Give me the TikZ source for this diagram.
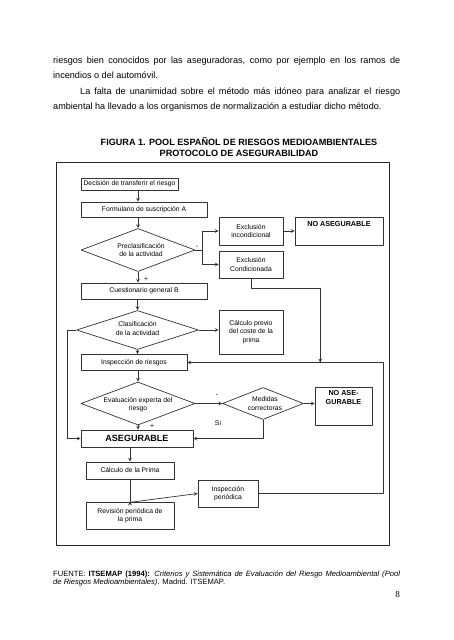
\documentclass[tikz,border=0pt]{standalone}
\usepackage{fontspec}
\setmainfont{Liberation Sans}
\newfontfamily\numfont{Liberation Serif}
\usetikzlibrary{shapes.geometric,positioning}

\begin{document}
\begin{tikzpicture}[x=1pt,y=-1pt,>=stealth,line join=round,
    caja/.style={draw=black!80,line width=0.7pt,inner sep=1pt,align=center,
        font=\fontsize{6.8}{8.3}\selectfont},
    rombo/.style={diamond,draw=black!80,line width=0.7pt,inner sep=0pt},
    rtexto/.style={align=center,inner sep=0pt,font=\fontsize{6.8}{8.3}\selectfont},
    ntexto/.style={anchor=north,inner sep=0pt,align=center,
        font=\bfseries\fontsize{7.2}{9.3}\selectfont},
    flecha/.style={->,draw=black!80,line width=0.7pt},
    linea/.style={draw=black!80,line width=0.7pt},
    signo/.style={inner sep=0pt,font=\fontsize{6.8}{8.3}\selectfont},
    renglon/.style={anchor=base west,inner sep=0pt,font=\fontsize{9.1}{15.5}\selectfont},
    pie/.style={anchor=base west,inner sep=0pt,font=\fontsize{7.6}{8.5}\selectfont}]

\useasboundingbox[fill=white] (0,0) rectangle (453,640);

% texto de la pagina
\node[renglon] (lin1) at (53,63) {\makebox[347pt][s]{riesgos bien conocidos por las aseguradoras, como por ejemplo en los ramos de}};
\node[renglon] (lin2) at (53,78) {incendios o del automóvil.};
\node[renglon] (lin3) at (80,94) {\makebox[320pt][s]{La falta de unanimidad sobre el método más idóneo para analizar el riesgo}};
\node[renglon] (lin4) at (53,109.5) {ambiental ha llevado a los organismos de normalización a estudiar dicho método.};

\node[align=center,inner sep=0pt,font=\bfseries\fontsize{9.1}{10.5}\selectfont] (titulo) at (239,147)
    {FIGURA 1. POOL ESPAÑOL DE RIESGOS MEDIOAMBIENTALES\\PROTOCOLO DE ASEGURABILIDAD};

% marco
\draw[black!85,line width=1pt] (56,162) rectangle (389,545);

% cajas
\node[caja,minimum width=97,minimum height=12] (decision) at (129.5,184) {Decisión de transferir el riesgo};
\node[caja,minimum width=126,minimum height=15] (formA) at (144,209.5) {Formulario de suscripción A};
\node[rombo,minimum width=114,minimum height=43,
    label={[rtexto,xshift=3pt]center:{Preclasificación\\de la actividad}}] (preclas) at (138,250) {};
\node[caja,minimum width=126,minimum height=16] (cuestB) at (144,291) {Cuestionario general B};
\node[caja,minimum width=64,minimum height=28] (exincond) at (251,231) {Exclusión\\incondicional};
\node[caja,minimum width=88,minimum height=28,
    label={[ntexto,yshift=-4.5pt]north:NO ASEGURABLE}] (noaseg1) at (339,231) {};
\node[caja,minimum width=64,minimum height=27] (excond) at (251,264.5) {Exclusión\\Condicionada};
\node[rombo,minimum width=122,minimum height=39,
    label={[rtexto,yshift=1.5pt]center:{Clasificación\\de la actividad}}] (clasif) at (137.5,330) {};
\node[caja,minimum width=64,minimum height=44] (calcprev) at (251,332) {Cálculo previo\\del coste de la\\prima};
\node[caja,minimum width=106,minimum height=16] (insprie) at (134,362.5) {Inspección de riesgos};
\node[rombo,minimum width=114,minimum height=43,
    label={[rtexto,yshift=-1pt]center:{Evaluación experta del\\riesgo}}] (evalexp) at (138,403.5) {};
\node[rombo,minimum width=81,minimum height=32,
    label={[rtexto,xshift=2pt]center:{Medidas\\correctoras}}] (medidas) at (263,403.5) {};
\node[caja,minimum width=57,minimum height=38,
    label={[ntexto,yshift=-3.5pt]north:{NO ASE-\\GURABLE}}] (noaseg2) at (343.5,406) {};
\node[caja,minimum width=112,minimum height=17,font=\bfseries\fontsize{9}{10}\selectfont] (aseg) at (137,438.5) {ASEGURABLE};
\node[caja,minimum width=88,minimum height=17] (calcprima) at (130,470.5) {Cálculo de la Prima};
\node[caja,minimum width=60,minimum height=27] (insper) at (228,493.5) {Inspección\\periódica};
\node[caja,minimum width=88,minimum height=27] (revis) at (130,515.5) {Revisión periódica de\\la prima};

% conexiones
\draw[flecha] (decision.south -| preclas.north) -- (formA.north -| preclas.north);
\draw[flecha] (formA.south -| preclas.north) -- (preclas.north);
\draw[linea] (preclas.east) -- ++(6.5,0) coordinate (rama);
\draw[flecha] (rama) |- (exincond.west);
\draw[flecha] (rama) |- (excond.west);
\draw[flecha] (exincond.east) -- (noaseg1.west);
\path (insprie.east) ++(133,0) coordinate (union);
\draw[flecha] (excond.south) -- ++(0,10) -| (union);
\draw[flecha] (preclas.south) -- (cuestB.north -| preclas.south);
\draw[flecha] (cuestB.south -| clasif.north) -- (clasif.north);
\draw[flecha] (clasif.east) -- (clasif.east -| calcprev.west);
\draw[flecha] (clasif.west) -- ++(-8.5,0) |- (aseg.west);
\draw[flecha] (clasif.south) -- (insprie.north -| clasif.south);
\draw[flecha] (insprie.south -| evalexp.north) -- (evalexp.north);
\draw[flecha] (evalexp.east) -- (medidas.west);
\draw[flecha] (medidas.east) -- (medidas.east -| noaseg2.west);
\draw[flecha] (medidas.south) |- (aseg.east);
\draw[flecha] (evalexp.south) -- (aseg.north -| evalexp.south);
\draw[flecha] (aseg.south -| calcprima.north) -- (calcprima.north);
\draw[linea] (calcprima.south) -- ++(0,23) coordinate (nudo);
\draw[flecha] (nudo) -- (insper.west);
\draw[flecha] (nudo) -- (revis.north);
\draw[flecha] (insper.east) -- ++(125,0) |- (insprie.east);

% signos
\node[signo] (mas1) at (146,280) {+};
\node[signo] (menos1) at (197,247) {-};
\node[signo] (mas2) at (152,427) {+};
\node[signo] (menos2) at (217,395) {-};
\node[signo] (si) at (218,423) {Si};

% fuente
\node[pie] (fuente1) at (53,576) {\makebox[347pt][s]{FUENTE: \textbf{ITSEMAP (1994):} \textit{Criterios y Sistemática de Evaluación del Riesgo Medioambiental (Pool}}};
\node[pie] (fuente2) at (53,584.5) {\textit{de Riesgos Medioambientales)}. Madrid. ITSEMAP.};
\node[anchor=base east,inner sep=0pt,font=\numfont\fontsize{9.1}{10}\selectfont] (pagina) at (400,597) {8};
\end{tikzpicture}
\end{document}
